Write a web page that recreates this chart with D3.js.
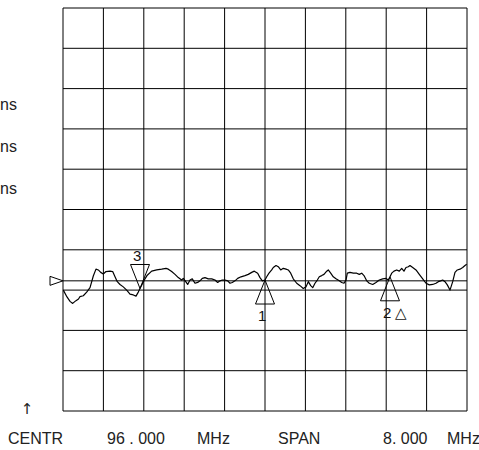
<!DOCTYPE html>
<html>
<head>
<meta charset="utf-8">
<script src="https://cdn.jsdelivr.net/npm/d3@7"></script>
<style>
  html, body { margin: 0; padding: 0; background: #fff; }
  svg { display: block; font-family: "Liberation Sans", Arial, sans-serif; }
</style>
</head>
<body>
<svg id="chart" width="479" height="450"></svg>
<script>
// ---- data ----
const centerMHz = 96.0;
const spanMHz = 8.0;
const divisions = 10;
const refLevel = 3.23;             // reference line position (divisions)
const leftLabels = ["ns", "ns", "ns"];
const leftLabelLevels = [7.6, 6.55, 5.5];
const footerLabels = ["CENTR", "96 . 000", "MHz", "SPAN", "8. 000", "MHz"];

const freqs = [
  92.006, 92.079, 92.139, 92.192, 92.238, 92.271, 92.307, 92.337, 92.402, 92.469,
  92.535, 92.600, 92.653, 92.699, 92.747, 92.798, 92.851, 92.931, 92.984, 93.030,
  93.075, 93.129, 93.194, 93.261, 93.327, 93.392, 93.446, 93.491, 93.525, 93.578,
  93.624, 93.669, 93.756, 93.855, 93.954, 94.040, 94.085, 94.152, 94.218, 94.283,
  94.350, 94.382, 94.430, 94.469, 94.515, 94.560, 94.614, 94.667, 94.713, 94.758,
  94.812, 94.877, 94.945, 95.010, 95.063, 95.109, 95.154, 95.208, 95.261, 95.307,
  95.352, 95.406, 95.459, 95.525, 95.604, 95.669, 95.737, 95.788, 95.855, 95.901,
  95.947, 96.000, 96.034, 96.079, 96.133, 96.164, 96.218, 96.263, 96.311, 96.362,
  96.416, 96.461, 96.509, 96.560, 96.628, 96.693, 96.758, 96.812, 96.857, 96.905,
  96.945, 96.990, 97.036, 97.075, 97.123, 97.168, 97.222, 97.253, 97.301, 97.352,
  97.406, 97.471, 97.519, 97.564, 97.604, 97.630, 97.683, 97.749, 97.816, 97.867,
  97.915, 97.960, 98.014, 98.065, 98.133, 98.198, 98.263, 98.331, 98.396, 98.442,
  98.475, 98.509, 98.554, 98.608, 98.659, 98.707, 98.752, 98.792, 98.838, 98.871,
  98.925, 98.990, 99.055, 99.123, 99.188, 99.253, 99.321, 99.386, 99.432, 99.479,
  99.519, 99.564, 99.610, 99.663, 99.717, 99.762, 99.808, 99.861, 99.915, 99.960,
  99.994
];
const trace = [
  3.00, 2.83, 2.72, 2.67, 2.72, 2.75, 2.78, 2.84, 2.86, 2.95,
  3.06, 3.35, 3.52, 3.50, 3.44, 3.40, 3.46, 3.47, 3.46, 3.33,
  3.21, 3.14, 3.08, 3.00, 2.90, 2.88, 2.85, 2.95, 3.04, 3.17,
  3.28, 3.37, 3.47, 3.50, 3.52, 3.54, 3.52, 3.46, 3.39, 3.31,
  3.25, 3.29, 3.21, 3.14, 3.25, 3.28, 3.17, 3.19, 3.23, 3.29,
  3.31, 3.28, 3.28, 3.25, 3.19, 3.23, 3.25, 3.25, 3.23, 3.17,
  3.19, 3.23, 3.29, 3.33, 3.36, 3.39, 3.44, 3.47, 3.42, 3.31,
  3.23, 3.25, 3.33, 3.42, 3.50, 3.56, 3.61, 3.58, 3.50, 3.54,
  3.52, 3.50, 3.42, 3.28, 3.17, 3.11, 3.04, 3.08, 3.21, 3.11,
  3.06, 3.17, 3.25, 3.33, 3.36, 3.39, 3.47, 3.50, 3.42, 3.33,
  3.28, 3.23, 3.19, 3.17, 3.25, 3.42, 3.44, 3.42, 3.42, 3.39,
  3.42, 3.36, 3.23, 3.17, 3.14, 3.19, 3.25, 3.28, 3.29, 3.25,
  3.33, 3.42, 3.47, 3.50, 3.47, 3.54, 3.47, 3.56, 3.58, 3.61,
  3.56, 3.50, 3.39, 3.28, 3.17, 3.13, 3.14, 3.17, 3.21, 3.23,
  3.25, 3.21, 3.13, 3.00, 3.21, 3.44, 3.50, 3.52, 3.56, 3.61,
  3.64
];
const markerNames = ["1", "2 \u25B3", "3"];
const markerFreqs = [96.000, 98.475, 93.525];
const markerPointsUp = [true, true, false];

// ---- layout ----
const plot = { left: 63, top: 8, width: 404, height: 403 };
const footerX = [8, 107, 197, 278, 383, 447];
const footerY = 444;

const svg = d3.select("#chart");
const x = d3.scaleLinear()
  .domain([centerMHz - spanMHz / 2, centerMHz + spanMHz / 2])
  .range([plot.left, plot.left + plot.width]);
const y = d3.scaleLinear()
  .domain([0, divisions])
  .range([plot.top + plot.height, plot.top]);

// grid
const xTicks = d3.range(divisions + 1).map(i => x.domain()[0] + i * spanMHz / divisions);
const yTicks = d3.range(divisions + 1);
const grid = svg.append("g").attr("stroke", "#000").attr("stroke-width", 1).attr("fill", "none");
grid.selectAll("line.v").data(xTicks).join("line").attr("class", "v")
  .attr("x1", d => x(d)).attr("x2", d => x(d))
  .attr("y1", y(0)).attr("y2", y(divisions));
grid.selectAll("line.h").data(yTicks).join("line").attr("class", "h")
  .attr("x1", x.range()[0]).attr("x2", x.range()[1])
  .attr("y1", d => y(d)).attr("y2", d => y(d));

// reference line + reference pointer
svg.append("line")
  .attr("x1", x.range()[0]).attr("x2", x.range()[1])
  .attr("y1", y(refLevel)).attr("y2", y(refLevel))
  .attr("stroke", "#000").attr("stroke-width", 1);
const ry = y(refLevel), rx = x.range()[0];
svg.append("path")
  .attr("d", `M${rx - 13},${ry - 4.5}L${rx},${ry}L${rx - 13},${ry + 4.5}Z`)
  .attr("fill", "#fff").attr("stroke", "#000").attr("stroke-width", 1);

// trace
const pts = freqs.map((f, i) => [f, trace[i]]);
svg.append("path")
  .datum(pts)
  .attr("fill", "none").attr("stroke", "#000").attr("stroke-width", 1.2)
  .attr("stroke-linejoin", "round")
  .attr("d", d3.line().x(d => x(d[0])).y(d => y(d[1])));

// markers (value interpolated on trace)
function traceAt(f) {
  const i = d3.bisectLeft(freqs, f);
  if (i <= 0) return trace[0];
  if (i >= freqs.length) return trace[trace.length - 1];
  const t = (f - freqs[i - 1]) / (freqs[i] - freqs[i - 1]);
  return trace[i - 1] + t * (trace[i] - trace[i - 1]);
}
const mw = 9.5, mh = 24;
markerNames.forEach((name, i) => {
  const mx = x(markerFreqs[i]);
  const my = y(traceAt(markerFreqs[i]));
  const up = markerPointsUp[i];
  const by = up ? my + mh : my - mh;
  svg.append("path")
    .attr("d", `M${mx},${my}L${mx - mw},${by}L${mx + mw},${by}Z`)
    .attr("fill", "none").attr("stroke", "#000").attr("stroke-width", 1);
  svg.append("text")
    .attr("x", mx - 7)
    .attr("y", up ? by + 17 : by - 3)
    .attr("font-size", 15)
    .attr("fill", "#111")
    .text(name);
});

// left labels
svg.selectAll("text.left").data(leftLabels).join("text").attr("class", "left")
  .attr("x", 0)
  .attr("y", (d, i) => y(leftLabelLevels[i]))
  .attr("dy", "0.32em")
  .attr("font-size", 16)
  .attr("fill", "#222")
  .text(d => d);

// arrow
svg.append("text")
  .attr("x", 27).attr("y", 409).attr("dy", "0.35em")
  .attr("text-anchor", "middle")
  .attr("font-family", "DejaVu Sans")
  .attr("font-size", 15).attr("fill", "#222")
  .text("\u2191");

// footer
svg.selectAll("text.foot").data(footerLabels).join("text").attr("class", "foot")
  .attr("x", (d, i) => footerX[i])
  .attr("y", footerY)
  .attr("font-size", 16)
  .attr("fill", "#222")
  .text(d => d);
</script>
</body>
</html>
